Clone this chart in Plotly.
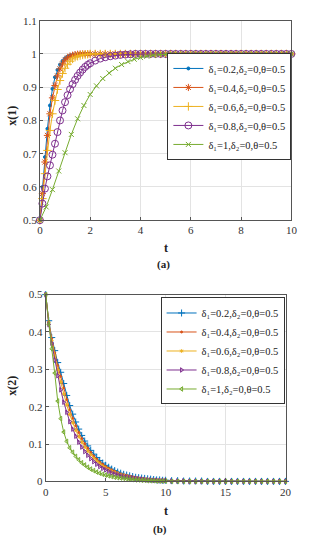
import plotly.graph_objects as go

# ---------------- data (a) ----------------
t_a = [0, 0.1, 0.2, 0.3, 0.4, 0.5, 0.6, 0.7, 0.8, 0.9, 1.0, 1.1, 1.2, 1.3, 1.4, 1.5, 1.6, 1.7, 1.8, 1.9, 2.0,
       2.2, 2.4, 2.6, 2.8, 3.0, 3.2, 3.4, 3.6, 3.8, 4.0, 4.2, 4.4, 4.6, 4.8, 5.0, 5.2, 5.4, 5.6, 5.8,
       6.0, 6.2, 6.4, 6.6, 6.8, 7.0, 7.2, 7.4, 7.6, 7.8, 8.0, 8.2, 8.4, 8.6, 8.8, 9.0, 9.2, 9.4, 9.6, 9.8, 10.0]
t_a_green = [0, 0.25, 0.5, 0.75, 1.0, 1.25, 1.5, 1.75, 2.0, 2.25, 2.5, 2.75, 3.0, 3.25, 3.5, 3.75, 4.0,
             4.25, 4.5, 4.75, 5.0, 5.25, 5.5, 5.75, 6.0, 6.25, 6.5, 6.75, 7.0, 7.25, 7.5, 7.75, 8.0,
             8.25, 8.5, 8.75, 9.0, 9.25, 9.5, 9.75, 10.0]

x1_d02 = [0.5, 0.6, 0.69, 0.775, 0.845, 0.895, 0.93, 0.952, 0.968, 0.979, 0.987, 0.992, 0.995, 0.997, 0.998, 0.999, 1.0, 1.0, 1.0, 1.0, 1.0,
          1.0, 1.0, 1.0, 1.0, 1.0, 1.0, 1.0, 1.0, 1.0, 1.0,
          1.0, 1.0, 1.0, 1.0, 1.0, 1.0, 1.0, 1.0, 1.0, 1.0,
          1.0, 1.0, 1.0, 1.0, 1.0, 1.0, 1.0, 1.0, 1.0, 1.0,
          1.0, 1.0, 1.0, 1.0, 1.0, 1.0, 1.0, 1.0, 1.0, 1.0]
x1_d04 = [0.5, 0.58, 0.675, 0.755, 0.82, 0.868, 0.905, 0.934, 0.955, 0.97, 0.981, 0.988, 0.993, 0.996, 0.998, 0.999, 1.0, 1.0, 1.0, 1.0, 1.0,
          1.0, 1.0, 1.0, 1.0, 1.0, 1.0, 1.0, 1.0, 1.0, 1.0,
          1.0, 1.0, 1.0, 1.0, 1.0, 1.0, 1.0, 1.0, 1.0, 1.0,
          1.0, 1.0, 1.0, 1.0, 1.0, 1.0, 1.0, 1.0, 1.0, 1.0,
          1.0, 1.0, 1.0, 1.0, 1.0, 1.0, 1.0, 1.0, 1.0, 1.0]
x1_d06 = [0.5, 0.565, 0.64, 0.71, 0.77, 0.82, 0.86, 0.893, 0.92, 0.941, 0.957, 0.969, 0.978, 0.985, 0.99, 0.993, 0.995, 0.997, 0.998, 0.999, 1.0,
          1.0, 1.0, 1.0, 1.0, 1.0, 1.0, 1.0, 1.0, 1.0, 1.0,
          1.0, 1.0, 1.0, 1.0, 1.0, 1.0, 1.0, 1.0, 1.0, 1.0,
          1.0, 1.0, 1.0, 1.0, 1.0, 1.0, 1.0, 1.0, 1.0, 1.0,
          1.0, 1.0, 1.0, 1.0, 1.0, 1.0, 1.0, 1.0, 1.0, 1.0]
x1_d08 = [0.5, 0.55, 0.595, 0.632, 0.665, 0.697, 0.73, 0.765, 0.8, 0.83, 0.855, 0.876, 0.894, 0.909, 0.922, 0.934, 0.944, 0.953, 0.961, 0.967, 0.972,
          0.98, 0.986, 0.99, 0.993, 0.995, 0.997, 0.998, 0.999, 1.0, 1.0,
          1.0, 1.0, 1.0, 1.0, 1.0, 1.0, 1.0, 1.0, 1.0, 1.0,
          1.0, 1.0, 1.0, 1.0, 1.0, 1.0, 1.0, 1.0, 1.0, 1.0,
          1.0, 1.0, 1.0, 1.0, 1.0, 1.0, 1.0, 1.0, 1.0, 1.0]
x1_d10 = [0.5, 0.54, 0.592, 0.648, 0.703, 0.758, 0.805, 0.845, 0.878, 0.904, 0.926, 0.943, 0.957, 0.968, 0.977, 0.984, 0.989,
          0.993, 0.996, 0.998, 0.999, 1.0, 1.0, 1.0, 1.0, 1.0, 1.0, 1.0, 1.0,
          1.0, 1.0, 1.0, 1.0, 1.0, 1.0, 1.0, 1.0, 1.0, 1.0, 1.0, 1.0]

# ---------------- data (b) ----------------
t_b = [0, 0.25, 0.5, 0.75, 1.0, 1.25, 1.5, 1.75, 2.0, 2.25, 2.5, 2.75, 3.0, 3.25, 3.5, 3.75, 4.0,
       4.25, 4.5, 4.75, 5.0, 5.25, 5.5, 5.75, 6.0, 6.25, 6.5, 6.75, 7.0, 7.25, 7.5, 7.75, 8.0,
       8.25, 8.5, 8.75, 9.0, 9.25, 9.5, 9.75, 10.0,
       10.5, 11.0, 11.5, 12.0, 12.5, 13.0, 13.5, 14.0, 14.5, 15.0, 15.5, 16.0, 16.5, 17.0, 17.5, 18.0,
       18.5, 19.0, 19.5, 20.0]

x2_d02 = [0.5, 0.43, 0.385, 0.35, 0.318, 0.292, 0.262, 0.23, 0.203, 0.18, 0.159, 0.14, 0.123, 0.108, 0.095, 0.083, 0.073,
          0.064, 0.056, 0.049, 0.043, 0.038, 0.033, 0.029, 0.025, 0.022, 0.019, 0.017, 0.015, 0.013, 0.011, 0.01, 0.009,
          0.008, 0.007, 0.006, 0.005, 0.004, 0.004, 0.003, 0.003,
          0.002, 0.002, 0.001, 0.001, 0.001, 0.001, 0.0, 0.0, 0.0, 0.0, 0.0, 0.0, 0.0, 0.0, 0.0, 0.0,
          0.0, 0.0, 0.0, 0.0]
x2_d04 = [0.5, 0.428, 0.382, 0.344, 0.31, 0.281, 0.25, 0.219, 0.192, 0.169, 0.149, 0.131, 0.115, 0.101, 0.089, 0.078, 0.068,
          0.06, 0.052, 0.046, 0.04, 0.035, 0.031, 0.027, 0.023, 0.02, 0.018, 0.016, 0.014, 0.012, 0.01, 0.009, 0.008,
          0.007, 0.006, 0.005, 0.004, 0.004, 0.003, 0.003, 0.002,
          0.002, 0.001, 0.001, 0.001, 0.0, 0.0, 0.0, 0.0, 0.0, 0.0, 0.0, 0.0, 0.0, 0.0, 0.0, 0.0,
          0.0, 0.0, 0.0, 0.0]
x2_d06 = [0.5, 0.425, 0.377, 0.336, 0.299, 0.266, 0.234, 0.205, 0.179, 0.157, 0.137, 0.12, 0.105, 0.092, 0.081, 0.071, 0.062,
          0.054, 0.047, 0.041, 0.036, 0.031, 0.027, 0.024, 0.021, 0.018, 0.016, 0.014, 0.012, 0.01, 0.009, 0.008, 0.007,
          0.006, 0.005, 0.004, 0.004, 0.003, 0.003, 0.002, 0.002,
          0.001, 0.001, 0.001, 0.0, 0.0, 0.0, 0.0, 0.0, 0.0, 0.0, 0.0, 0.0, 0.0, 0.0, 0.0, 0.0,
          0.0, 0.0, 0.0, 0.0]
x2_d08 = [0.5, 0.42, 0.37, 0.325, 0.283, 0.245, 0.212, 0.185, 0.16, 0.14, 0.121, 0.105, 0.092, 0.08, 0.07, 0.061, 0.053,
          0.046, 0.04, 0.035, 0.031, 0.027, 0.023, 0.02, 0.018, 0.015, 0.013, 0.012, 0.01, 0.009, 0.008, 0.007, 0.006,
          0.005, 0.004, 0.004, 0.003, 0.003, 0.002, 0.002, 0.002,
          0.001, 0.001, 0.001, 0.0, 0.0, 0.0, 0.0, 0.0, 0.0, 0.0, 0.0, 0.0, 0.0, 0.0, 0.0, 0.0,
          0.0, 0.0, 0.0, 0.0]
x2_d10 = [0.5, 0.42, 0.355, 0.29, 0.215, 0.168, 0.132, 0.107, 0.09, 0.078, 0.067, 0.058, 0.05, 0.044, 0.038, 0.033, 0.029,
          0.025, 0.022, 0.019, 0.017, 0.015, 0.013, 0.011, 0.01, 0.009, 0.008, 0.007, 0.006, 0.005, 0.004, 0.004, 0.003,
          0.003, 0.002, 0.002, 0.002, 0.001, 0.001, 0.001, 0.001,
          0.0, 0.0, 0.0, 0.0, 0.0, 0.0, 0.0, 0.0, 0.0, 0.0, 0.0, 0.0, 0.0, 0.0, 0.0, 0.0,
          0.0, 0.0, 0.0, 0.0]

for s in (x1_d02, x1_d04, x1_d06, x1_d08):
    assert len(s) == len(t_a), len(s)
assert len(x1_d10) == len(t_a_green), len(x1_d10)
for s in (x2_d02, x2_d04, x2_d06, x2_d08, x2_d10):
    assert len(s) == len(t_b), len(s)

labels = ["δ₁=0.2,δ₂=0,θ=0.5",
          "δ₁=0.4,δ₂=0,θ=0.5",
          "δ₁=0.6,δ₂=0,θ=0.5",
          "δ₁=0.8,δ₂=0,θ=0.5",
          "δ₁=1,δ₂=0,θ=0.5"]
colors = ["#0072BD", "#D95319", "#EDB120", "#7E2F8E", "#77AC30"]

FONT = "Liberation Serif, DejaVu Serif, serif"
fig = go.Figure()

# (a)
top_series = [(t_a, x1_d02, "circle", 3), (t_a, x1_d04, "asterisk-open", 6),
              (t_a, x1_d06, "cross-thin-open", 6), (t_a, x1_d08, "circle-open", 7),
              (t_a_green, x1_d10, "x-thin-open", 5)]
for i, (tt, yy, sym, sz) in enumerate(top_series):
    fig.add_trace(go.Scatter(x=tt, y=yy, mode="lines+markers", name=labels[i],
                             line=dict(color=colors[i], width=1),
                             marker=dict(symbol=sym, size=sz, color=colors[i], line=dict(color=colors[i], width=1)),
                             xaxis="x", yaxis="y", legend="legend", cliponaxis=False))
# (b)
bot_series = [(x2_d02, "cross-thin-open", 5), (x2_d04, "circle", 2), (x2_d06, "asterisk-open", 3),
              (x2_d08, "triangle-right-open", 4), (x2_d10, "triangle-left-open", 4)]
for i, (yy, sym, sz) in enumerate(bot_series):
    fig.add_trace(go.Scatter(x=t_b, y=yy, mode="lines+markers", name=labels[i],
                             line=dict(color=colors[i], width=1),
                             marker=dict(symbol=sym, size=sz, color=colors[i], line=dict(color=colors[i], width=1)),
                             xaxis="x2", yaxis="y2", legend="legend2", cliponaxis=False))

axis_common = dict(showgrid=True, gridcolor="#e3e3e3", gridwidth=1, zeroline=False,
                   showline=True, linecolor="#555", linewidth=1, mirror=True,
                   ticks="inside", ticklen=3, tickcolor="#555",
                   tickfont=dict(family=FONT, size=11, color="#333"))

fig.update_layout(
    width=310, height=550, margin=dict(l=0, r=0, t=0, b=0),
    font=dict(family=FONT),
    paper_bgcolor="white", plot_bgcolor="white", showlegend=True,
    xaxis=dict(domain=[38/310, 297/310], range=[0, 10], tickvals=[0, 2, 4, 6, 8, 10], anchor="y", **axis_common),
    yaxis=dict(domain=[1-219/550, 1-15/550], range=[0.5, 1.1], tickvals=[0.5, 0.6, 0.7, 0.8, 0.9, 1.0, 1.1],
               ticktext=["0.5", "0.6", "0.7", "0.8", "0.9", "1", "1.1"], anchor="x", **axis_common),
    xaxis2=dict(domain=[44/310, 291/310], range=[0, 20], tickvals=[0, 5, 10, 15, 20], anchor="y2", **axis_common),
    yaxis2=dict(domain=[1-486/550, 1-295/550], range=[0, 0.5], tickvals=[0, 0.1, 0.2, 0.3, 0.4, 0.5],
                ticktext=["0", "0.1", "0.2", "0.3", "0.4", "0.5"], anchor="x2", **axis_common),
    legend=dict(x=297/310, xanchor="right", y=1-48/550, yanchor="top", bgcolor="white",
                bordercolor="#333", borderwidth=1, font=dict(family=FONT, size=10.5, color="#222"),
                itemwidth=30, tracegroupgap=0),
    legend2=dict(x=290/310, xanchor="right", y=1-298/550, yanchor="top", bgcolor="white",
                 bordercolor="#333", borderwidth=1, font=dict(family=FONT, size=10.5, color="#222"),
                 itemwidth=30, tracegroupgap=0),
)

ann = [
    dict(text="<b>x(1)</b>", x=8.5/310, y=1-112/550, textangle=-90, size=12),
    dict(text="<b>t</b>", x=168/310, y=1-247/550, textangle=0, size=12),
    dict(text="<b>(a)</b>", x=165/310, y=1-264/550, textangle=0, size=11),
    dict(text="<b>x(2)</b>", x=8.5/310, y=1-388/550, textangle=-90, size=12),
    dict(text="<b>t</b>", x=168/310, y=1-516/550, textangle=0, size=12),
    dict(text="<b>(b)</b>", x=162/310, y=1-535/550, textangle=0, size=11),
]
for a in ann:
    fig.add_annotation(text=a["text"], x=a["x"], y=a["y"], xref="paper", yref="paper",
                       xanchor="center", yanchor="middle", showarrow=False, textangle=a["textangle"],
                       font=dict(family=FONT, size=a["size"], color="#222"))

fig.write_html("out.html", config={"displayModeBar": False},
               post_script="document.body.style.margin='0px';")
